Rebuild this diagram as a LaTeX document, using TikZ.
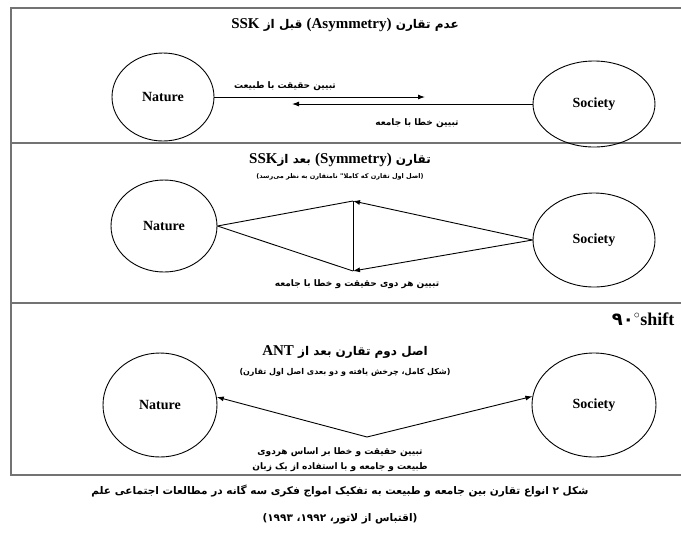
\documentclass[tikz,border=0pt]{standalone}
\usepackage{fontspec}
\setmainfont{Liberation Serif}
\newfontfamily\fa[Script=Arabic]{DejaVu Sans}
\TeXXeTstate=1
\usetikzlibrary{arrows,arrows.meta,shapes.geometric,positioning}

\begin{document}
\begin{tikzpicture}[x=1pt,y=-1pt,
    circ/.style={draw,ellipse,line width=0.9pt,inner sep=0pt,minimum width=102pt,minimum height=84pt,font=\bfseries\fontsize{14}{16}\selectfont},
    lbl/.style={font=\fa\bfseries\fontsize{9}{11}\selectfont},
    ttl/.style={font=\fa\bfseries\fontsize{12}{14}\selectfont},
    sub/.style={font=\fa\bfseries\fontsize{6.5}{8}\selectfont},
    frame/.style={draw=black!55,line width=1.2pt},
    edge/.style={line width=0.9pt},
    arr/.style={-{Latex[length=7pt,width=5pt]},line width=0.9pt}]
    \useasboundingbox (0,0) rectangle (681,542);

    % frame and the three panels
    \draw[frame] (681,8) -- (11,8) -- (11,475) -- (681,475);
    \draw[frame] (11,143) -- (681,143);
    \draw[frame] (11,303) -- (681,303);

    % panel 1: asymmetry
    \node[ttl] (t1) at (345,25) {\beginR عدم تقارن \beginL{\rmfamily\fontsize{15}{17}\selectfont(Asymmetry)}\endL{} قبل از \beginL{\rmfamily\fontsize{15}{17}\selectfont SSK}\endL\endR};
    \node[circ,minimum height=88pt] (nat1) at (163,97) {Nature};
    \node[circ,minimum width=122pt,minimum height=86pt] (soc1) at (594,104) {Society};
    \coordinate (a1) at (425,97);
    \coordinate (b1) at (292,104);
    \draw[arr] (nat1.east) -- (a1);
    \draw[arr] (soc1.west) -- (b1);
    \node[lbl] (l1a) at (285,86) {\beginR تبیین حقیقت با طبیعت\endR};
    \node[lbl] (l1b) at (417,123) {\beginR تبیین خطا با جامعه\endR};

    % panel 2: symmetry
    \node[ttl] (t2) at (340,160) {\beginR تقارن \beginL{\rmfamily\fontsize{15}{17}\selectfont(Symmetry)}\endL{} بعد از\beginL{\rmfamily\fontsize{15}{17}\selectfont SSK}\endL\endR};
    \node[sub] (s2) at (340,177) {\beginR(اصل اول تقارن که کاملا" نامتقارن به نظر می‌رسد)\endR};
    \node[circ,minimum width=106pt,minimum height=92pt] (nat2) at (164,226) {Nature};
    \node[circ,minimum width=122pt,minimum height=94pt] (soc2) at (594,240) {Society};
    \coordinate (top2) at (353,201);
    \coordinate (bot2) at (353,271);
    \draw[edge] (nat2.east) -- (top2);
    \draw[edge] (nat2.east) -- (bot2);
    \draw[edge] (top2) -- (bot2);
    \draw[arr] (soc2.west) -- (top2);
    \draw[arr] (soc2.west) -- (bot2);
    \node[lbl] (l2) at (357,284) {\beginR تبیین هر دوی حقیقت و خطا با جامعه\endR};

    % panel 3: ANT
    \node[anchor=east,font=\bfseries\fontsize{18}{20}\selectfont] (sh) at (678,319) {{\fa ۹۰}$^{\circ}$shift};
    \node[ttl] (t3) at (345,352) {\beginR اصل دوم تقارن بعد از \beginL{\rmfamily\fontsize{15}{17}\selectfont ANT}\endL\endR};
    \node[sub,font=\fa\bfseries\fontsize{8}{10}\selectfont] (s3) at (345,372) {\beginR(شکل کامل، چرخش یافته و دو بعدی اصل اول تقارن)\endR};
    \node[circ,minimum width=114pt,minimum height=104pt] (nat3) at (160,405) {Nature};
    \node[circ,minimum width=124pt,minimum height=104pt] (soc3) at (594,405) {Society};
    \coordinate (v3) at (367,437);
    \draw[{Latex[length=7pt,width=5pt]}-{Latex[length=7pt,width=5pt]},edge] (nat3.8) -- (v3) -- (soc3.172);
    \node[lbl] (l3a) at (340,452) {\beginR تبیین حقیقت و خطا بر اساس هردوی\endR};
    \node[lbl] (l3b) at (340,467) {\beginR طبیعت و جامعه و با استفاده از یک زبان\endR};

    % caption
    \node[ttl,font=\fa\bfseries\fontsize{10.5}{12}\selectfont] (cap1) at (340,491) {\beginR شکل \beginL۲\endL{} انواع تقارن بین جامعه و طبیعت به تفکیک امواج فکری سه گانه در مطالعات اجتماعی علم\endR};
    \node[ttl,font=\fa\bfseries\fontsize{10.5}{12}\selectfont] (cap2) at (340,519) {\beginR(اقتباس از لاتور، \beginL۱۹۹۲\endL، \beginL۱۹۹۳\endL)\endR};
\end{tikzpicture}
\end{document}
